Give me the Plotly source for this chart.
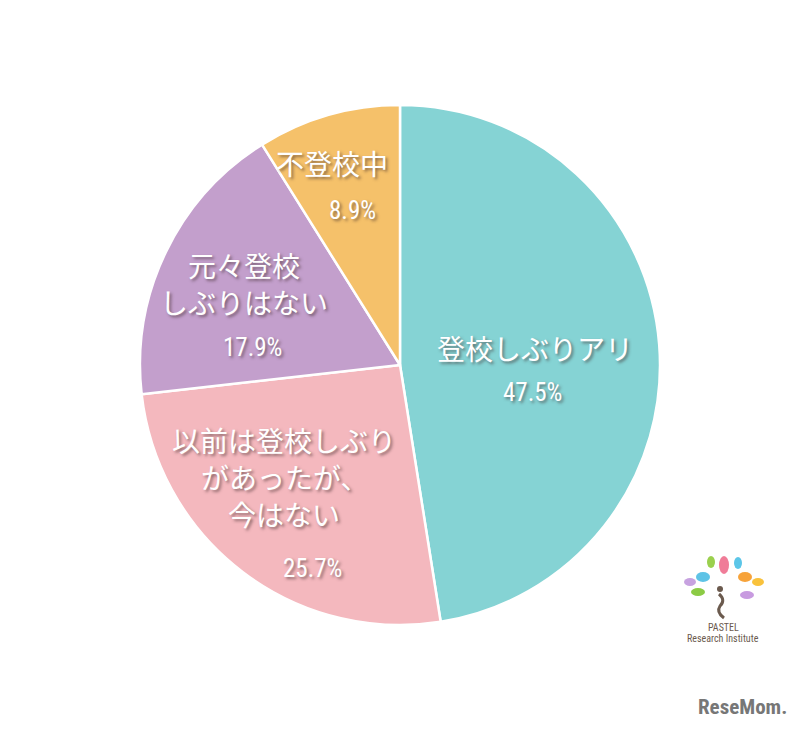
import plotly.graph_objects as go

labels = ["登校しぶりアリ", "以前は登校しぶりがあったが、今はない", "元々登校しぶりはない", "不登校中"]
label_lines = [["登校しぶりアリ"], ["以前は登校しぶり", "があったが、", "今はない"], ["元々登校", "しぶりはない"], ["不登校中"]]
values = [47.5, 25.7, 17.9, 8.9]
colors = ["#85D3D4", "#F4B8BE", "#C39FCC", "#F5C16A"]

# label anchor positions (pixels in 800x730 canvas): (x, first line y, percent y)
label_pos = [(535, 348, 392), (284, 440, 568), (244, 265, 347), (332, 163, 210)]
pct_x = [532, 312, 252, 352]

W, H = 800, 730
shadow = "2px 2px 3px rgba(60,40,40,0.55)"
jp_font = "Noto Sans CJK JP"
num_font = "Roboto Condensed, Liberation Sans Narrow, Noto Sans"

fig = go.Figure(go.Pie(
    labels=labels,
    values=values,
    sort=False,
    direction="clockwise",
    rotation=0,
    marker=dict(colors=colors, line=dict(color="white", width=2.5)),
    textinfo="none",
    hoverinfo="label+percent",
    showlegend=False,
    domain=dict(x=[140 / W, 660 / W], y=[(H - 625) / H, (H - 105) / H]),
))

annotations = []
for i, lines in enumerate(label_lines):
    x, y0, py = label_pos[i]
    for j, line in enumerate(lines):
        annotations.append(dict(
            x=x / W, y=1 - (y0 + j * 37) / H, xref="paper", yref="paper",
            text=line, showarrow=False, xanchor="center", yanchor="middle",
            font=dict(family=jp_font, size=28, color="white", shadow=shadow),
        ))
    annotations.append(dict(
        x=pct_x[i] / W, y=1 - py / H, xref="paper", yref="paper",
        text=f"{values[i]:.1f}%", showarrow=False, xanchor="center", yanchor="middle",
        font=dict(family=num_font, size=25, color="white", shadow=shadow),
    ))

# logos as text
annotations.append(dict(x=723 / W, y=1 - 627 / H, xref="paper", yref="paper", text="PASTEL",
                        showarrow=False, xanchor="center", yanchor="middle",
                        font=dict(family=num_font, size=10, color="#6b5a4e")))
annotations.append(dict(x=723 / W, y=1 - 638 / H, xref="paper", yref="paper", text="Research Institute",
                        showarrow=False, xanchor="center", yanchor="middle",
                        font=dict(family=num_font, size=10, color="#6b5a4e")))
annotations.append(dict(x=742 / W, y=1 - 707 / H, xref="paper", yref="paper", text="<b>ReseMom.</b>",
                        showarrow=False, xanchor="center", yanchor="middle",
                        font=dict(family=num_font, size=21, color="#777777")))

# decorative logo petals
petals = [(711, 562, 4, 6, "#9BD04E"), (724, 565, 5, 9, "#F07C98"), (738, 563, 4, 6, "#5CC6E8"),
          (703, 577, 7, 5, "#5EC3E6"), (745, 577, 7, 5, "#F7A33A"), (690, 582, 6, 4, "#C7A2E0"),
          (758, 582, 6, 4, "#F9C23C"), (698, 592, 7, 4, "#8CCB45"), (747, 595, 7, 4, "#C89BE0")]
shapes = []
for (cx, cy, rx, ry, c) in petals:
    shapes.append(dict(type="circle", xref="paper", yref="paper",
                       x0=(cx - rx) / W, x1=(cx + rx) / W, y0=1 - (cy + ry) / H, y1=1 - (cy - ry) / H,
                       fillcolor=c, line=dict(width=0)))
shapes.append(dict(type="circle", xref="paper", yref="paper",
                   x0=717 / W, x1=723 / W, y0=1 - 592 / H, y1=1 - 586 / H, fillcolor="#6b5a4e", line=dict(width=0)))
shapes.append(dict(type="path", xref="paper", yref="paper",
                   path=f"M {719/W},{1-594/H} Q {726/W},{1-600/H} {720/W},{1-606/H} Q {716/W},{1-612/H} {724/W},{1-618/H}",
                   line=dict(color="#6b5a4e", width=3)))

fig.update_layout(
    width=W, height=H,
    margin=dict(l=0, r=0, t=0, b=0),
    paper_bgcolor="white", plot_bgcolor="white",
    annotations=annotations,
    shapes=shapes,
)
fig.write_html("out.html", config={"displayModeBar": False})

with open("out.html", "r", encoding="utf-8") as f:
    html = f.read()
html = html.replace("<body>", '<body style="margin:0;padding:0">', 1)
with open("out.html", "w", encoding="utf-8") as f:
    f.write(html)
